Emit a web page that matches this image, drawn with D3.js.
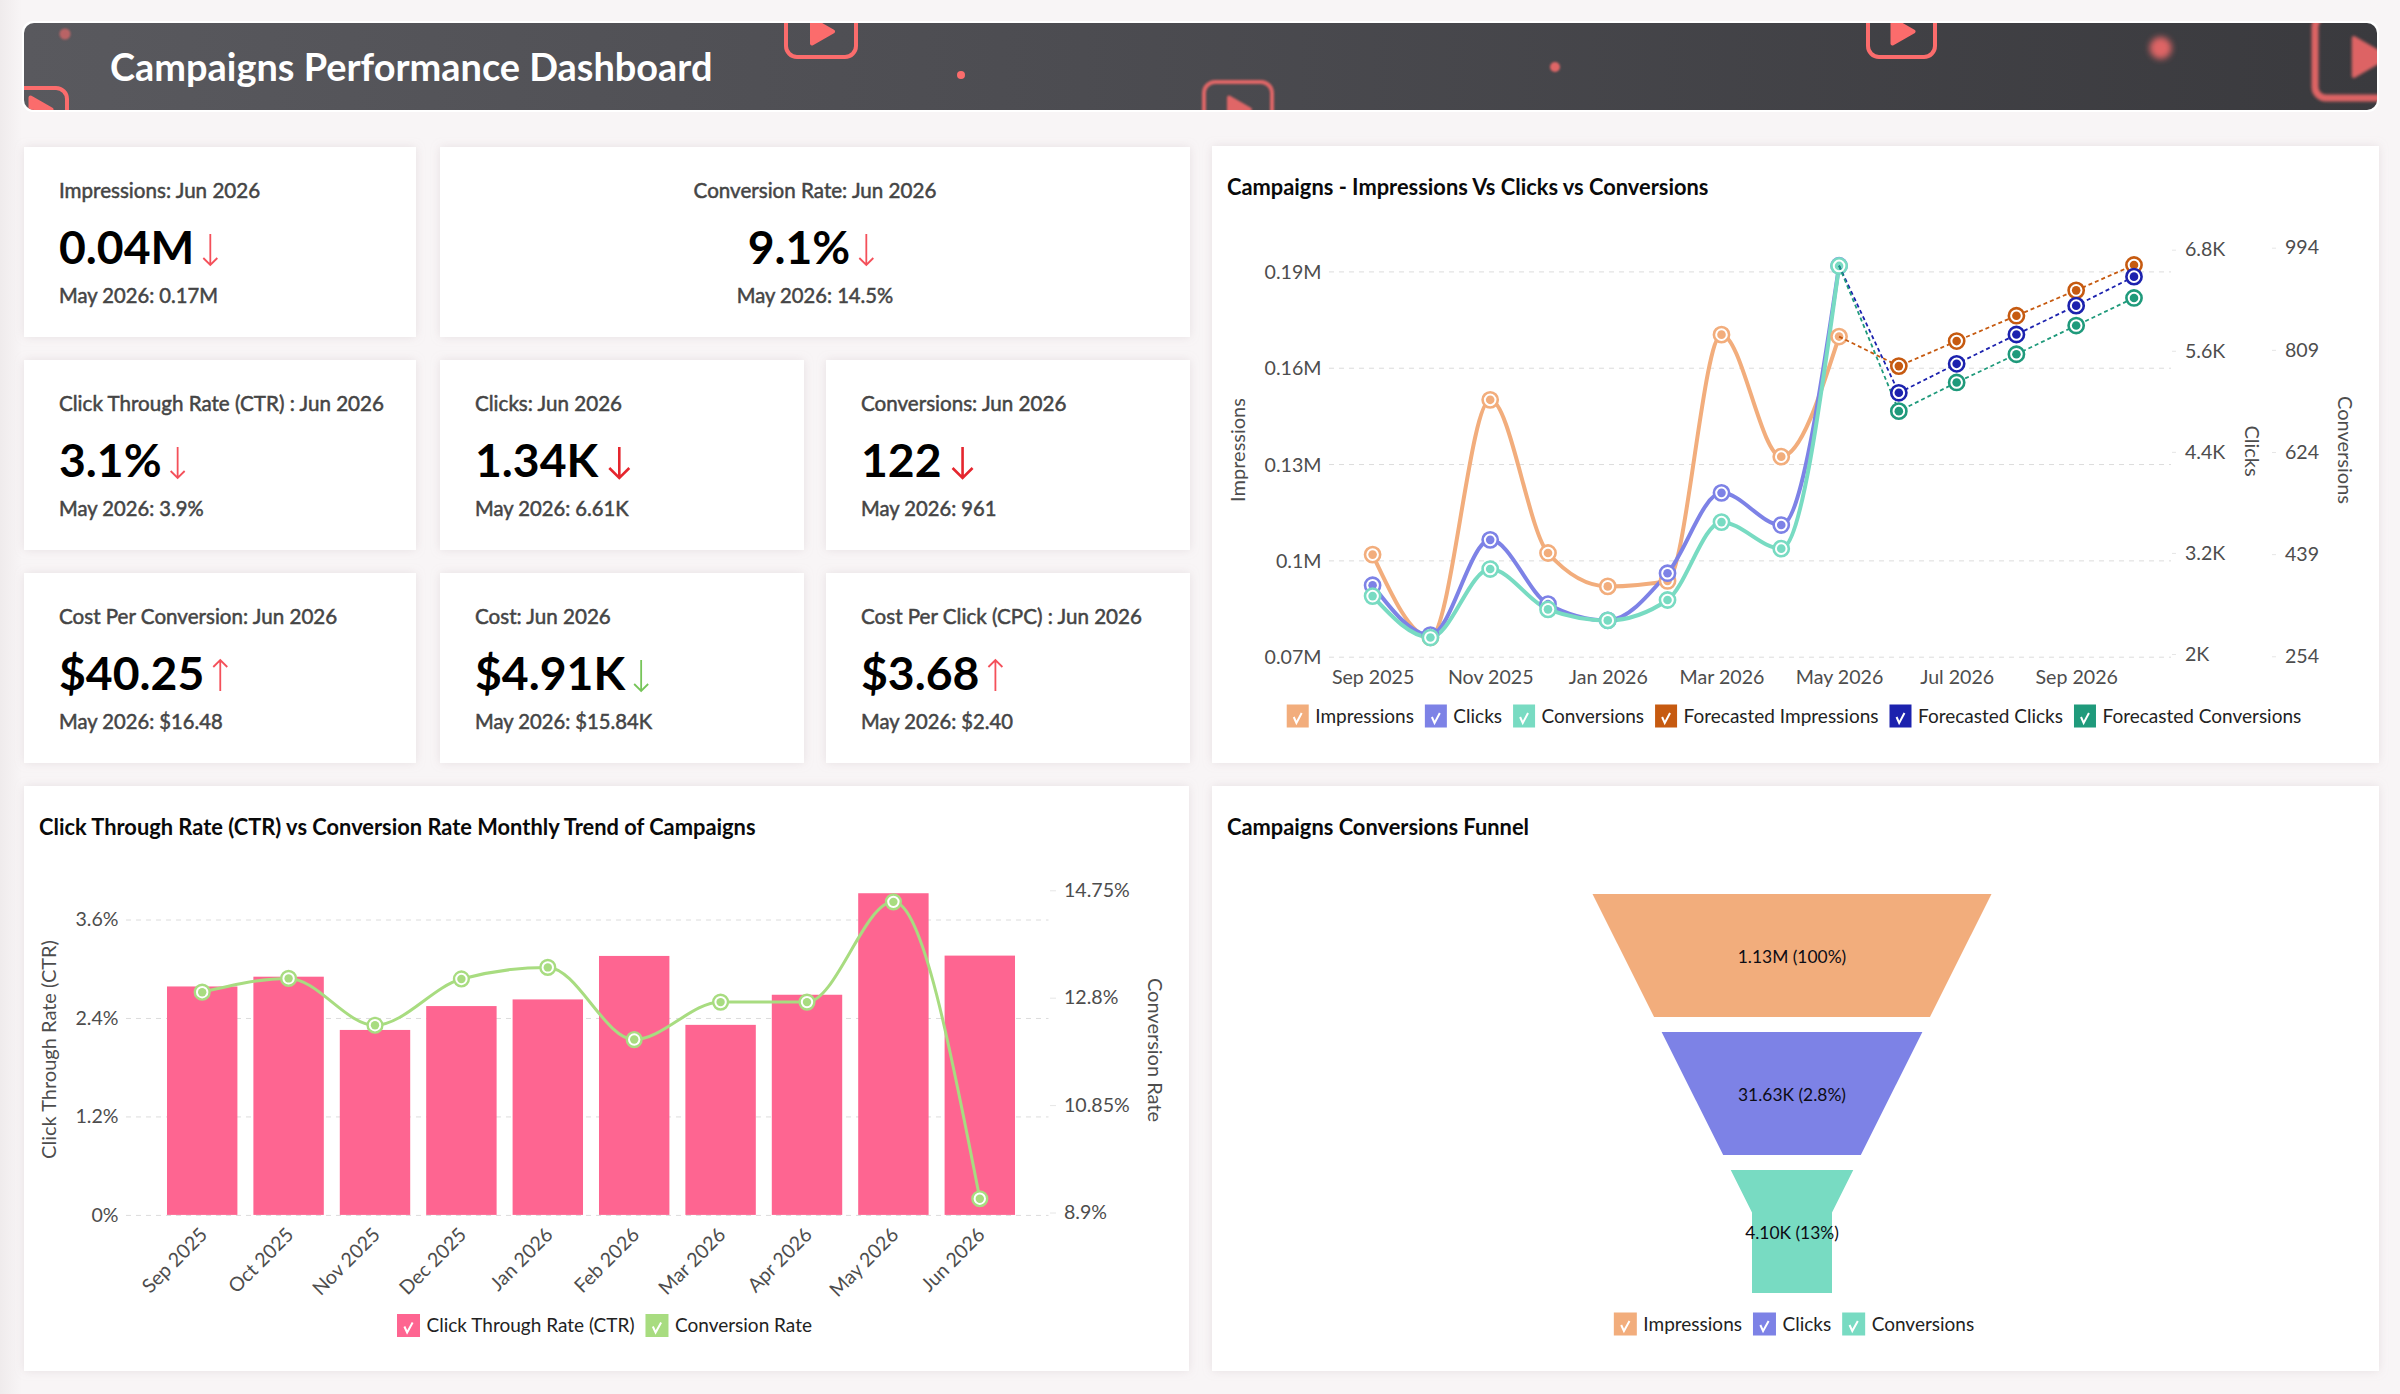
<!DOCTYPE html>
<html>
<head>
<meta charset="utf-8">
<script src="https://cdn.jsdelivr.net/npm/d3@7"></script>
<style>
  html, body { margin: 0; padding: 0; background: #f8f5f6; }
  svg { display: block; font-family: Lato, sans-serif; }
  .card { fill: #fff; filter: url(#cardShadow); }
  .kpi-title { font-size: 20.6px; fill: #454545; stroke: #454545; stroke-width: 0.5px; }
  .kpi-prev { font-size: 20.2px; fill: #454545; stroke: #454545; stroke-width: 0.5px; }
  .kpi-value { font-size: 46.3px; font-weight: 700; fill: #000; }
  .chart-title { font-size: 21.85px; font-weight: 700; fill: #0a0a0a; }
  .axis text { font-size: 19.6px; fill: #4d4d4d; font-family: Lato, sans-serif; }
  .axis-title { font-size: 20px; fill: #4d4d4d; }
  .grid line { stroke: #dcdcdc; stroke-dasharray: 5 5; }
  .legend text { font-size: 19px; fill: #222; }
  .funnel-label { font-size: 17.4px; fill: #0c0c14; }
</style>
</head>
<body>
<svg id="dash" width="2400" height="1394"></svg>
<script>
const dashTitle = "Campaigns Performance Dashboard";

// KPI tiles
const kpiTitles = ["Impressions: Jun 2026", "Conversion Rate: Jun 2026", "Click Through Rate (CTR) : Jun 2026", "Clicks: Jun 2026", "Conversions: Jun 2026", "Cost Per Conversion: Jun 2026", "Cost: Jun 2026", "Cost Per Click (CPC) : Jun 2026"];
const kpiValues = ["0.04M", "9.1%", "3.1%", "1.34K", "122", "$40.25", "$4.91K", "$3.68"];
const kpiPrev = ["May 2026: 0.17M", "May 2026: 14.5%", "May 2026: 3.9%", "May 2026: 6.61K", "May 2026: 961", "May 2026: $16.48", "May 2026: $15.84K", "May 2026: $2.40"];
const kpiDirs = ["down", "down", "down", "down", "down", "up", "down", "up"];

// impressions / clicks / conversions, actual then forecast
const lineMonths = ["Sep 2025", "Oct 2025", "Nov 2025", "Dec 2025", "Jan 2026", "Feb 2026", "Mar 2026", "Apr 2026", "May 2026"];
const forecastMonths = ["May 2026", "Jun 2026", "Jul 2026", "Aug 2026", "Sep 2026", "Oct 2026"];
const impressions = [0.1018, 0.076, 0.15, 0.1023, 0.0919, 0.0936, 0.1703, 0.1323, 0.1697];
const clicks = [2816, 2224, 3355, 2592, 2400, 2959, 3913, 3531, 6610];
const conversions = [363, 288, 412, 339, 319, 356, 497, 449, 961];
const forecastImpressions = [0.1697, 0.1605, 0.1683, 0.1762, 0.1841, 0.192];
const forecastClicks = [6610, 5101, 5445, 5793, 6136, 6480];
const forecastConversions = [961, 698, 750, 801, 853, 903];
const lineXTicks = ["Sep 2025", "Nov 2025", "Jan 2026", "Mar 2026", "May 2026", "Jul 2026", "Sep 2026"];
const imprTicks = [0.07, 0.1, 0.13, 0.16, 0.19];
const clickTicks = [2000, 3200, 4400, 5600, 6800];
const convTicks = [254, 439, 624, 809, 994];

// ctr vs conversion rate
const rateMonths = ["Sep 2025", "Oct 2025", "Nov 2025", "Dec 2025", "Jan 2026", "Feb 2026", "Mar 2026", "Apr 2026", "May 2026", "Jun 2026"];
const ctrValues = [2.784, 2.903, 2.254, 2.545, 2.626, 3.156, 2.316, 2.683, 3.92, 3.16];
const convRateValues = [12.9, 13.15, 12.3, 13.14, 13.35, 12.04, 12.72, 12.72, 14.54, 9.15];
const ctrTicks = [0, 1.2, 2.4, 3.6];
const convRateTicks = [8.9, 10.85, 12.8, 14.75];

// funnel
const funnelStages = ["Impressions", "Clicks", "Conversions"];
const funnelLabels = ["1.13M (100%)", "31.63K (2.8%)", "4.10K (13%)"];

const orange = "#f2ad7c", blue = "#7d82e6", teal = "#78dbc2";
const darkOrange = "#c65a10", darkBlue = "#1c22ae", darkTeal = "#1f9a7b";
const pink = "#fe6591", green = "#a8dc80";

const parseMonth = d3.timeParse("%b %Y");
const svg = d3.select("#dash");

let defs = svg.append("defs");
let shadow = defs.append("filter").attr("id", "cardShadow")
  .attr("x", "-5%").attr("y", "-5%").attr("width", "110%").attr("height", "110%");
shadow.append("feDropShadow").attr("dx", 0).attr("dy", 0).attr("stdDeviation", 5)
  .attr("flood-color", "#b9a9ad").attr("flood-opacity", 0.28);
[1.2, 1.8, 3].forEach(function (s, i) {
  defs.append("filter").attr("id", "blur" + i).attr("x", "-40%").attr("y", "-40%")
    .attr("width", "180%").attr("height", "180%")
    .append("feGaussianBlur").attr("stdDeviation", s);
});

// the page is a little greyer along its left edge
let edge = defs.append("linearGradient").attr("id", "edgeGrad");
edge.append("stop").attr("offset", "0%").attr("stop-color", "#efebec");
edge.append("stop").attr("offset", "100%").attr("stop-color", "#f8f5f6");
svg.append("rect").attr("width", 22).attr("height", 1394).attr("fill", "url(#edgeGrad)");

drawHeader();
drawKpis();
drawLineChart();
drawRateChart();
drawFunnel();

function drawHeader() {
  let grad = defs.append("linearGradient").attr("id", "headGrad");
  grad.append("stop").attr("offset", "0%").attr("stop-color", "#59595e");
  grad.append("stop").attr("offset", "45%").attr("stop-color", "#4c4c51");
  grad.append("stop").attr("offset", "100%").attr("stop-color", "#3a3a3e");
  defs.append("clipPath").attr("id", "headClip").append("rect")
    .attr("x", 24).attr("y", 23).attr("width", 2353).attr("height", 87).attr("rx", 10);

  svg.append("rect").attr("x", 22).attr("y", 21).attr("width", 2357).attr("height", 91)
    .attr("rx", 11).attr("fill", "#fff");
  let head = svg.append("g").attr("clip-path", "url(#headClip)");
  head.append("rect").attr("x", 24).attr("y", 23).attr("width", 2353).attr("height", 87)
    .attr("fill", "url(#headGrad)");

  // background decoration of the banner: play buttons and glowing dots
  let salmon = "#fb6c6c";
  let icons = [
    { x: 786, y: 2, w: 70, h: 55, tri: 14, sw: 4, blur: null, op: 1, dx: 0, dy: 2 },
    { x: 1868, y: 2, w: 67, h: 55, tri: 14, sw: 4, blur: null, op: 1, dx: 0, dy: 2 },
    { x: 1204, y: 82, w: 68, h: 55, tri: 14, sw: 4, blur: 0, op: 0.85, dx: 0, dy: 0 },
    { x: -2, y: 88, w: 69, h: 55, tri: 14, sw: 4, blur: null, op: 1, dx: 7, dy: -6 },
    { x: 2315, y: 16, w: 106, h: 82, tri: 21, sw: 7, blur: 1, op: 0.85, dx: 0, dy: 0 }
  ];
  icons.forEach(function (d) {
    let g = head.append("g").attr("opacity", d.op);
    if (d.blur !== null) g.attr("filter", `url(#blur${d.blur})`);
    g.append("rect").attr("x", d.x).attr("y", d.y).attr("width", d.w).attr("height", d.h)
      .attr("rx", 11).attr("fill", "none").attr("stroke", salmon).attr("stroke-width", d.sw);
    let cx = d.x + d.w / 2 + d.dx, cy = d.y + d.h / 2 + d.dy, r = d.tri - 2;
    g.append("path")
      .attr("d", d3.line()([[cx - r * 0.75, cy - r], [cx + r, cy], [cx - r * 0.75, cy + r]]) + "Z")
      .attr("fill", salmon).attr("stroke", salmon).attr("stroke-width", 4).attr("stroke-linejoin", "round");
  });
  let dots = [
    { x: 961, y: 75, r: 4, blur: null, op: 1 },
    { x: 1555, y: 67, r: 5, blur: 0, op: 0.85 },
    { x: 2160.7, y: 48, r: 11, blur: 2, op: 0.85 },
    { x: 65, y: 34, r: 5.5, blur: 0, op: 0.6 }
  ];
  head.selectAll(".dot").data(dots).join("circle").attr("class", "dot")
    .attr("cx", d => d.x).attr("cy", d => d.y).attr("r", d => d.r)
    .attr("fill", salmon).attr("opacity", d => d.op)
    .attr("filter", d => d.blur === null ? null : `url(#blur${d.blur})`);

  svg.append("text").text(dashTitle)
    .attr("x", 110).attr("y", 81)
    .style("font-weight", 700).style("font-size", "37.9px").attr("fill", "#fff");
}

function drawKpis() {
  // [x0, x1, y0] for each tile, same order as the kpi arrays
  let boxes = [[24, 416, 147], [440, 1190, 147], [24, 416, 360], [440, 804, 360], [826, 1190, 360], [24, 416, 573], [440, 804, 573], [826, 1190, 573]];
  let heavyArrow = ["Clicks: Jun 2026", "Conversions: Jun 2026"];

  kpiTitles.forEach(function (title, i) {
    let [x0, x1, y0] = boxes[i];
    let g = svg.append("g");
    g.append("rect").attr("class", "card").attr("x", x0).attr("y", y0)
      .attr("width", x1 - x0).attr("height", 190);

    let centered = i === 1;
    let tx = centered ? (x0 + x1) / 2 : x0 + 35;
    let anchor = centered ? "middle" : "start";
    g.append("text").attr("class", "kpi-title").text(title)
      .attr("x", tx).attr("y", y0 + 43.5).attr("dy", "0.35em").attr("text-anchor", anchor);
    g.append("text").attr("class", "kpi-prev").text(kpiPrev[i])
      .attr("x", tx).attr("y", y0 + 149).attr("dy", "0.35em").attr("text-anchor", anchor);

    let value = g.append("text").attr("class", "kpi-value").text(kpiValues[i])
      .attr("x", centered ? tx - 16 : tx).attr("y", y0 + 100.5).attr("dy", "0.35em").attr("text-anchor", anchor);

    let vw = value.node().getComputedTextLength();
    let vx = centered ? tx - 16 + vw / 2 : tx + vw;
    let heavy = heavyArrow.indexOf(title) >= 0;
    let ax = vx + (heavy ? 21 : 16);

    let colour = title.indexOf("Cost:") === 0 ? "#77c55a" : (heavy ? "#e5262e" : "#f4505a");
    let half = heavy ? 10 : 7;
    let ay0 = y0 + 87, ay1 = y0 + 118;
    let tip = kpiDirs[i] === "down" ? ay1 : ay0;
    let tail = kpiDirs[i] === "down" ? ay0 : ay1;
    let back = kpiDirs[i] === "down" ? tip - half : tip + half;
    g.append("path")
      .attr("d", `M${ax},${tail}L${ax},${tip}M${ax - half},${back}L${ax},${tip}L${ax + half},${back}`)
      .attr("fill", "none").attr("stroke", colour).attr("stroke-width", heavy ? 2.6 : 1.8);
  });
}

function chartCard(x0, x1, y0, y1, title, titleY) {
  svg.append("rect").attr("class", "card").attr("x", x0).attr("y", y0)
    .attr("width", x1 - x0).attr("height", y1 - y0);
  svg.append("text").attr("class", "chart-title").text(title)
    .attr("x", x0 + 15).attr("y", titleY).attr("dy", "0.35em");
}

function axisTitle(text, x, y, rot) {
  svg.append("text").attr("class", "axis-title").text(text)
    .attr("text-anchor", "middle").attr("dy", "0.35em")
    .attr("transform", `translate(${x},${y}) rotate(${rot})`);
}

function drawLegend(items, cx, y, w, h) {
  let g = svg.append("g").attr("class", "legend");
  let pos = 0;
  items.forEach(function (d) {
    let item = g.append("g").attr("transform", `translate(${pos},0)`);
    item.append("rect").attr("x", 0).attr("y", y - h / 2).attr("width", w).attr("height", h).attr("fill", d.color);
    item.append("path")
      .attr("d", d3.line()([[w * 0.32, y + 1], [w * 0.44, y + 7], [w * 0.68, y - 3]]))
      .attr("fill", "none").attr("stroke", "#fff").attr("stroke-width", 2);
    let label = item.append("text").text(d.name).attr("x", w + 6.5).attr("y", y).attr("dy", "0.35em");
    pos += w + 6.5 + label.node().getComputedTextLength() + 11;
  });
  g.attr("transform", `translate(${cx - (pos - 11) / 2},0)`);
}

function drawSeries(g, data, x, y, color, opts) {
  let line = d3.line().x(d => x(d.date)).y(d => y(d.value));
  line.curve(opts.dashed ? d3.curveLinear : d3.curveMonotoneX);
  g.append("path").datum(data).attr("d", line)
    .attr("fill", "none").attr("stroke", color)
    .attr("stroke-width", opts.dashed ? 1.8 : opts.width)
    .attr("stroke-dasharray", opts.dashed ? "4 3" : null);
}

function drawMarkers(g, data, x, y, color, r, ring) {
  let m = g.append("g");
  m.selectAll(".outer").data(data).join("circle").attr("class", "outer")
    .attr("cx", d => x(d.date)).attr("cy", d => y(d.value)).attr("r", r)
    .attr("fill", "#fff").attr("stroke", color).attr("stroke-width", ring);
  m.selectAll(".inner").data(data).join("circle").attr("class", "inner")
    .attr("cx", d => x(d.date)).attr("cy", d => y(d.value)).attr("r", r - ring / 2 - 2)
    .attr("fill", color);
}

function drawLineChart() {
  chartCard(1212, 2379, 146, 763, "Campaigns - Impressions Vs Clicks vs Conversions", 187);

  let x = d3.scaleTime().domain([parseMonth("Sep 2025"), parseMonth("Oct 2026")]).range([1372.6, 2134]);
  let yImpr = d3.scaleLinear().domain([0.07, 0.19]).range([656.7, 271.4]);
  let yClicks = d3.scaleLinear().domain([2000, 6800]).range([654, 249.7]);
  let yConv = d3.scaleLinear().domain([254, 994]).range([656.3, 247.7]);

  let gridLeft = 1329, gridRight = 2171;

  svg.append("g").attr("class", "axis grid")
    .attr("transform", `translate(${gridLeft},0)`)
    .call(d3.axisLeft(yImpr).tickValues(imprTicks).tickFormat(d => d + "M")
      .tickSizeInner(gridLeft - gridRight).tickSizeOuter(0).tickPadding(7.5))
    .call(g => g.select(".domain").remove())
    .call(g => g.selectAll("text").attr("dy", "0.36em"));

  svg.append("g").attr("class", "axis")
    .attr("transform", "translate(0,658.2)")
    .call(d3.axisBottom(x).tickValues(lineXTicks.map(parseMonth)).tickFormat(d3.timeFormat("%b %Y"))
      .tickSize(0).tickPadding(12))
    .call(g => g.select(".domain").remove());

  svg.append("g").attr("class", "axis")
    .attr("transform", "translate(2172,0)")
    .call(d3.axisRight(yClicks).tickValues(clickTicks).tickFormat(d => d / 1000 + "K")
      .tickSize(4).tickPadding(9))
    .call(styleRightAxis);

  svg.append("g").attr("class", "axis")
    .attr("transform", "translate(2272,0)")
    .call(d3.axisRight(yConv).tickValues(convTicks).tickSize(4).tickPadding(9))
    .call(styleRightAxis);

  axisTitle("Impressions", 1237.5, 450, -90);
  axisTitle("Clicks", 2251.7, 451, 90);
  axisTitle("Conversions", 2344.6, 450, 90);

  let toPoints = (months, values) => values.map((v, i) => ({ date: parseMonth(months[i]), value: v }));

  let g = svg.append("g");
  drawSeries(g, toPoints(lineMonths, impressions), x, yImpr, orange, { width: 4 });
  drawSeries(g, toPoints(lineMonths, clicks), x, yClicks, blue, { width: 4 });
  drawSeries(g, toPoints(lineMonths, conversions), x, yConv, teal, { width: 4 });
  drawMarkers(g, toPoints(lineMonths, impressions), x, yImpr, orange, 7.6, 2.6);
  drawMarkers(g, toPoints(lineMonths, clicks), x, yClicks, blue, 7.6, 2.6);
  drawMarkers(g, toPoints(lineMonths, conversions), x, yConv, teal, 7.6, 2.6);

  drawSeries(g, toPoints(forecastMonths, forecastImpressions), x, yImpr, darkOrange, { dashed: true });
  drawSeries(g, toPoints(forecastMonths, forecastClicks), x, yClicks, darkBlue, { dashed: true });
  drawSeries(g, toPoints(forecastMonths, forecastConversions), x, yConv, darkTeal, { dashed: true });
  drawMarkers(g, toPoints(forecastMonths, forecastImpressions).slice(1), x, yImpr, darkOrange, 7.6, 2.6);
  drawMarkers(g, toPoints(forecastMonths, forecastClicks).slice(1), x, yClicks, darkBlue, 7.6, 2.6);
  drawMarkers(g, toPoints(forecastMonths, forecastConversions).slice(1), x, yConv, darkTeal, 7.6, 2.6);

  drawLegend([
    { name: "Impressions", color: orange },
    { name: "Clicks", color: blue },
    { name: "Conversions", color: teal },
    { name: "Forecasted Impressions", color: darkOrange },
    { name: "Forecasted Clicks", color: darkBlue },
    { name: "Forecasted Conversions", color: darkTeal }
  ], 1794, 716, 22, 23);
}

function styleRightAxis(g) {
  g.select(".domain").remove();
  g.selectAll("line").attr("stroke", "#e6e6e6");
}

function drawRateChart() {
  chartCard(24, 1189, 786, 1371, "Click Through Rate (CTR) vs Conversion Rate Monthly Trend of Campaigns", 827.5);

  let x = d3.scaleBand().domain(rateMonths).range([159, 1023]).paddingInner(0.185).paddingOuter(0.0925);
  let yCtr = d3.scaleLinear().domain([0, 3.6]).range([1214.9, 919.5]);
  let yRate = d3.scaleLinear().domain([8.9, 14.75]).range([1212.5, 890.3]);
  let gridLeft = 126, gridRight = 1048.5;

  svg.append("g").attr("class", "axis grid")
    .attr("transform", `translate(${gridLeft},0)`)
    .call(d3.axisLeft(yCtr).tickValues(ctrTicks).tickFormat(d => d + "%")
      .tickSizeInner(gridLeft - gridRight).tickSizeOuter(0).tickPadding(7.5))
    .call(g => g.select(".domain").remove())
    .call(g => g.selectAll(".tick:first-of-type line").attr("stroke-dasharray", null));

  svg.append("g").attr("class", "axis")
    .attr("transform", "translate(0,1214.9)")
    .call(d3.axisBottom(x).tickSize(0).tickPadding(10))
    .call(g => g.select(".domain").remove())
    .call(g => g.selectAll("text")
      .attr("x", -10.5).attr("y", 12.5).attr("dy", "0.35em")
      .attr("text-anchor", "end").attr("transform", "rotate(-45)"));

  svg.append("g").attr("class", "axis")
    .attr("transform", "translate(1050,0)")
    .call(d3.axisRight(yRate).tickValues(convRateTicks).tickFormat(d => d + "%").tickSize(6).tickPadding(8))
    .call(styleRightAxis);

  axisTitle("Click Through Rate (CTR)", 49, 1049.5, -90);
  axisTitle("Conversion Rate", 1155, 1050, 90);

  svg.append("g").selectAll("rect")
    .data(rateMonths)
    .join("rect")
    .attr("x", d => x(d))
    .attr("width", x.bandwidth())
    .attr("y", (d, i) => yCtr(ctrValues[i]))
    .attr("height", (d, i) => yCtr(0) - yCtr(ctrValues[i]))
    .attr("fill", pink);

  let pts = rateMonths.map((m, i) => ({ date: m, value: convRateValues[i] }));
  let xc = m => x(m) + x.bandwidth() / 2;
  let g = svg.append("g");
  drawSeries(g, pts, xc, yRate, green, { width: 3 });
  drawMarkers(g, pts, xc, yRate, green, 7.4, 2.4);

  drawLegend([
    { name: "Click Through Rate (CTR)", color: pink },
    { name: "Conversion Rate", color: green }
  ], 604.5, 1325.5, 23, 23);
}

function drawFunnel() {
  chartCard(1212, 2379, 786, 1371, "Campaigns Conversions Funnel", 827.5);

  let cx = 1792;
  let y = d3.scaleBand().domain(funnelStages).range([894, 1293]).paddingInner(0.109).paddingOuter(0);
  let width = d3.scaleLinear().domain([894, 1212.5]).range([399, 80]).clamp(true);
  let neckY = width.domain()[1];
  let outline = d3.line();

  funnelStages.forEach(function (stage, i) {
    let top = y(stage), bottom = top + y.bandwidth();
    let ys = [top];
    if (neckY > top && neckY < bottom) ys.push(neckY);
    ys.push(bottom);
    let left = ys.map(v => [cx - width(v) / 2, v]);
    let right = ys.map(v => [cx + width(v) / 2, v]).reverse();
    svg.append("path").attr("d", outline(left.concat(right)) + "Z")
      .attr("fill", [orange, blue, teal][i]);
  });

  svg.selectAll(".funnel-label").data(funnelStages).join("text").attr("class", "funnel-label")
    .text((d, i) => funnelLabels[i])
    .attr("x", cx).attr("text-anchor", "middle")
    .attr("y", d => y(d) + y.bandwidth() / 2 + 1.5).attr("dy", "0.35em");

  drawLegend([
    { name: "Impressions", color: orange },
    { name: "Clicks", color: blue },
    { name: "Conversions", color: teal }
  ], 1794, 1324, 23, 23);
}
</script>
</body>
</html>
